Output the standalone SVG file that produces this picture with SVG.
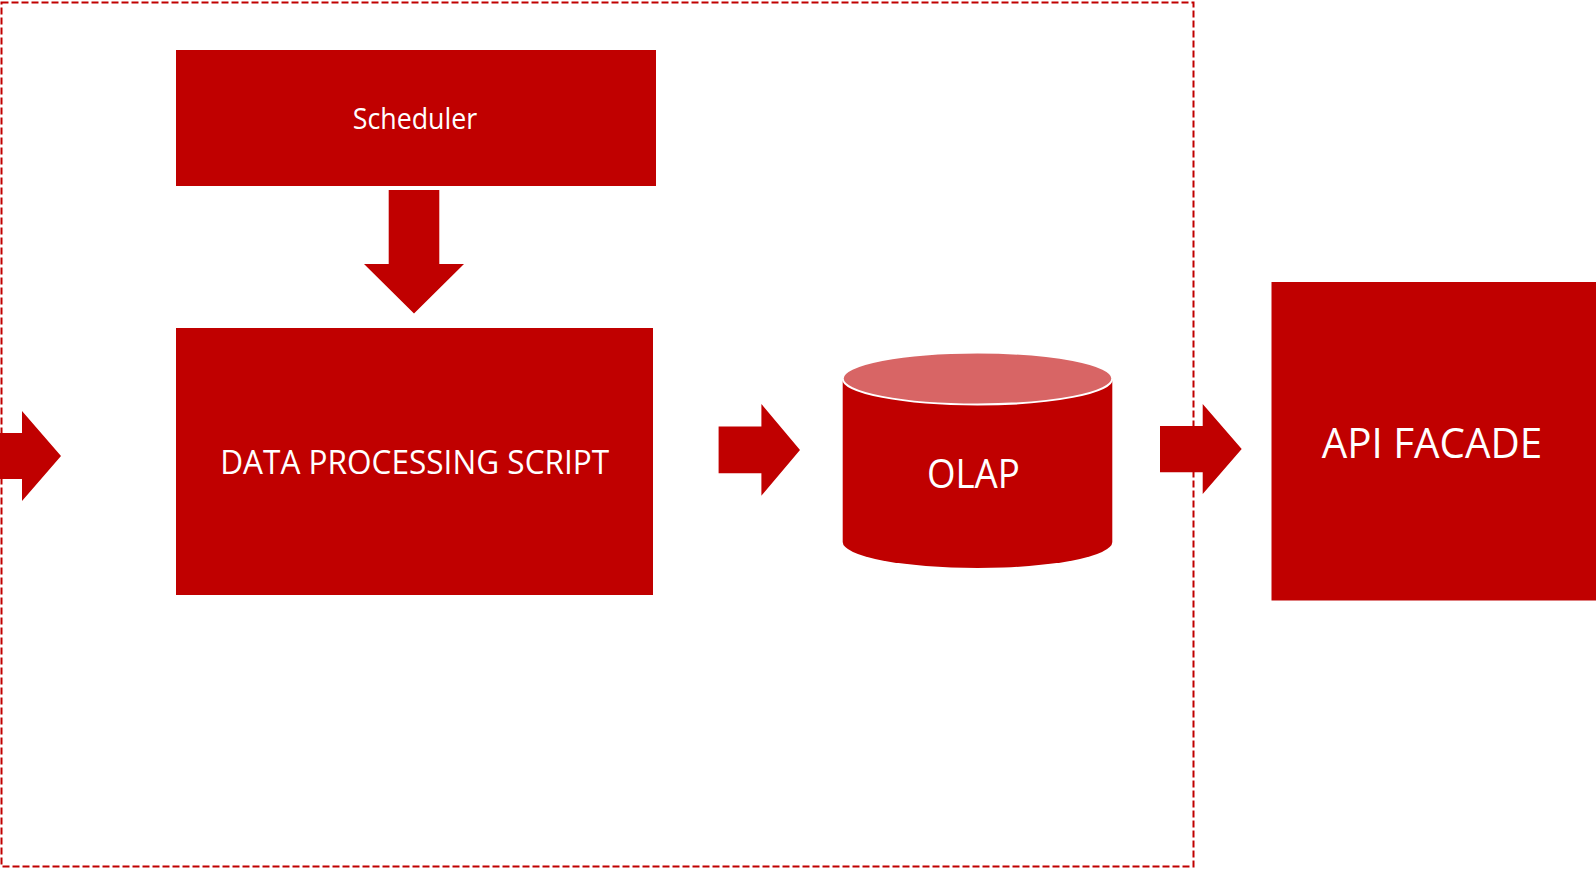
<svg xmlns="http://www.w3.org/2000/svg" width="1596" height="869" viewBox="0 0 1596 869">
<style>
.fill{fill:#C00000}
.lbl{fill:#FFFFFF;font-family:"Open Sans","Liberation Sans",sans-serif;text-anchor:middle}
</style>
<rect width="1596" height="869" fill="#FFFFFF"/>
<g id="boundary">
<rect x="1.5" y="2.5" width="1192" height="864" fill="none" stroke="#C00000" stroke-width="2" stroke-dasharray="7,3"/>
</g>
<g id="scheduler">
<rect class="fill" x="176" y="50" width="480" height="136"/>
<text class="lbl" x="415" y="129" font-size="29" textLength="124.6" lengthAdjust="spacingAndGlyphs">Scheduler</text>
</g>
<g id="data-processing-script">
<rect class="fill" x="176" y="328" width="477" height="267"/>
<text class="lbl" x="414.7" y="474" font-size="33.6" textLength="389" lengthAdjust="spacingAndGlyphs">DATA PROCESSING SCRIPT</text>
</g>
<g id="olap">
<path class="fill" d="M842.7,378.5 L842.7,542 A134.8,26 0 0 0 1112.3,542 L1112.3,378.5 Z"/>
<ellipse cx="977.5" cy="378.5" rx="134.8" ry="26" fill="#D86565" stroke="#FFFFFF" stroke-width="2"/>
<text class="lbl" x="973.4" y="488.3" font-size="39.6" textLength="93" lengthAdjust="spacingAndGlyphs">OLAP</text>
</g>
<g id="api-facade">
<rect class="fill" x="1271.5" y="282" width="324.5" height="318.5"/>
<text class="lbl" x="1432" y="458.3" font-size="42" textLength="220.6" lengthAdjust="spacingAndGlyphs">API FACADE</text>
</g>
<g id="connectors">
<polygon class="fill" points="388.7,190 439.3,190 439.3,264 464,264 414,313.5 364,264 388.7,264"/>
<polygon class="fill" points="0,433 22,433 22,411 61,456 22,501 22,479 0,479"/>
<polygon class="fill" points="718.6,426.5 761.4,426.5 761.4,404 800,450 761.4,495.7 761.4,473.3 718.6,473.3"/>
<polygon class="fill" points="1160,426 1202.7,426 1202.7,404 1241.7,449 1202.7,494 1202.7,472.3 1160,472.3"/>
</g>
</svg>
